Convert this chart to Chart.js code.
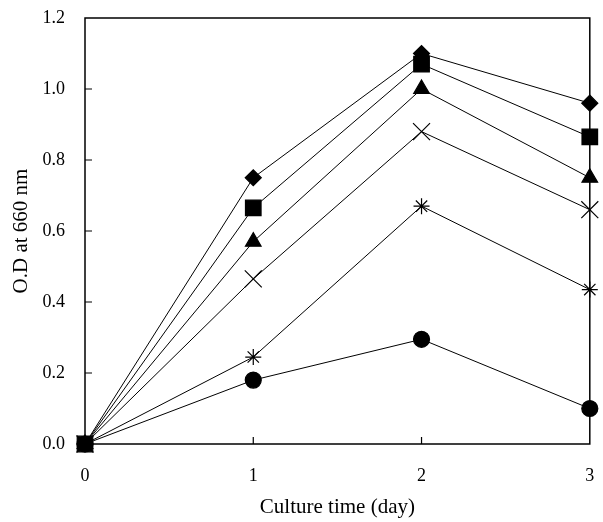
<!DOCTYPE html>
<html>
<head>
<meta charset="utf-8">
<script src="https://cdn.jsdelivr.net/npm/chart.js@4.4.1/dist/chart.umd.min.js"></script>
<style>
  html, body { margin: 0; padding: 0; background: #fff; }
  #wrap { width: 603px; height: 522px; }
</style>
</head>
<body>
<div id="wrap"><canvas id="odChart"></canvas></div>
<script>
// culture time (day)
const days = [0, 1, 2, 3];
// O.D at 660 nm, one array per marker
const diamondVals  = [0, 0.75, 1.10, 0.96];
const squareVals   = [0, 0.665, 1.07, 0.865];
const triangleVals = [0, 0.57, 1.00, 0.75];
const crossVals    = [0, 0.465, 0.88, 0.66];
const starVals     = [0, 0.245, 0.67, 0.435];
const circleVals   = [0, 0.18, 0.295, 0.10];
const yTicks = [0, 0.2, 0.4, 0.6, 0.8, 1.0, 1.2];
const xTicks = [0, 1, 2, 3];

const toPoints = vals => days.map((d, i) => ({ x: d, y: vals[i] }));

const series = [
  { vals: squareVals,   style: "rect",     radius: 11, order: 0 },
  { vals: diamondVals,  style: "rectRot",  radius: 8,  order: 1 },
  { vals: triangleVals, style: "triangle", radius: 9,  order: 1 },
  { vals: crossVals,    style: "crossRot", radius: 12, order: 1 },
  { vals: starVals,     style: "star",     radius: 8,  order: 1 },
  { vals: circleVals,   style: "circle",   radius: 8,  order: 1 }
];

// frame + inward tick marks
const framePlugin = {
  id: "frame",
  beforeDatasetsDraw(chart) {
    const { ctx, chartArea: a, scales } = chart;
    ctx.save();
    ctx.strokeStyle = "#000";
    ctx.lineWidth = 1.5;
    ctx.strokeRect(a.left, a.top, a.right - a.left, a.bottom - a.top);
    ctx.lineWidth = 1.2;
    ctx.beginPath();
    yTicks.slice(1, -1).forEach(v => {
      const y = scales.y.getPixelForValue(v);
      ctx.moveTo(a.left, y);
      ctx.lineTo(a.left + 7, y);
    });
    xTicks.slice(1, -1).forEach(v => {
      const x = scales.x.getPixelForValue(v);
      ctx.moveTo(x, a.bottom);
      ctx.lineTo(x, a.bottom - 7);
    });
    ctx.stroke();
    ctx.restore();
  }
};

Chart.defaults.font.family = "'Liberation Serif', 'DejaVu Serif', serif";
Chart.defaults.color = "#000";

new Chart(document.getElementById("odChart"), {
  type: "line",
  data: {
    datasets: series.map(s => ({
      data: toPoints(s.vals),
      borderColor: "#000",
      borderWidth: 1,
      backgroundColor: "#000",
      pointBackgroundColor: "#000",
      pointBorderColor: "#000",
      pointBorderWidth: 1.2,
      pointStyle: s.style,
      pointRadius: s.radius,
      pointHoverRadius: s.radius,
      order: s.order,
      clip: false,
      fill: false,
      tension: 0
    }))
  },
  options: {
    responsive: true,
    maintainAspectRatio: false,
    animation: false,
    events: [],
    layout: { padding: { left: 0, right: 0, top: 18, bottom: 0 } },
    plugins: {
      legend: { display: false },
      tooltip: { enabled: false }
    },
    scales: {
      x: {
        type: "linear",
        min: 0,
        max: 3,
        afterBuildTicks: axis => { axis.ticks = xTicks.map(v => ({ value: v })); },
        afterFit: axis => { axis.height = 78; axis.paddingRight = 12; axis.paddingLeft = 0; },
        grid: { display: false, drawTicks: false },
        border: { display: false },
        ticks: { padding: 21, font: { size: 18 } },
        title: {
          display: true,
          text: "Culture time (day)",
          font: { size: 21 },
          padding: { top: 4, bottom: 2 }
        }
      },
      y: {
        min: 0,
        max: 1.2,
        afterBuildTicks: axis => { axis.ticks = yTicks.map(v => ({ value: v })); },
        afterFit: axis => { axis.width = 85; axis.paddingTop = 0; axis.paddingBottom = 0; },
        grid: { display: false, drawTicks: false },
        border: { display: false },
        ticks: {
          padding: 20,
          font: { size: 18 },
          callback: v => Number(v).toFixed(1)
        },
        title: {
          display: true,
          text: "O.D at 660 nm",
          font: { size: 21 },
          padding: { top: 9, bottom: 0 }
        }
      }
    }
  },
  plugins: [framePlugin]
});
</script>
</body>
</html>
